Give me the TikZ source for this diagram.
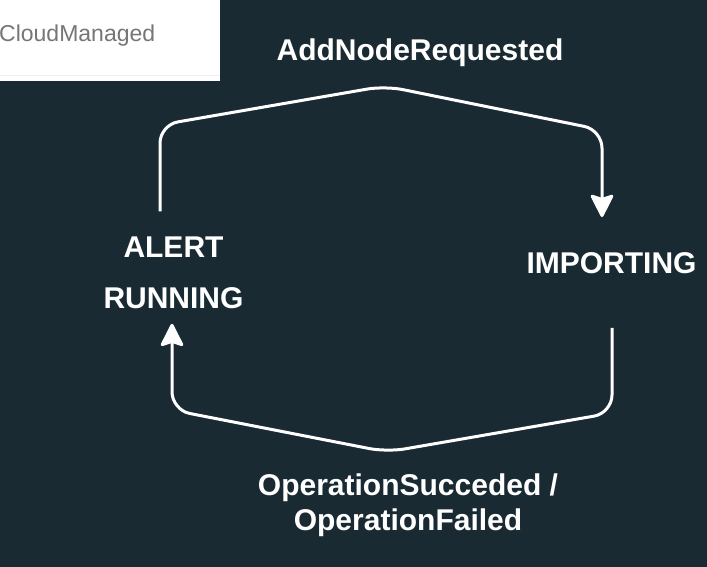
\documentclass[tikz,border=0pt]{standalone}
\usepackage{fontspec}
\setmainfont{Liberation Sans}
\usetikzlibrary{arrows.meta}
\definecolor{boardbg}{HTML}{1A2A32}
\definecolor{tabtext}{HTML}{767676}
\begin{document}
\begin{tikzpicture}[x=1pt,y=-1pt,
  statelabel/.style={text=white,font=\bfseries\fontsize{30}{51}\selectfont,inner sep=0pt,outer sep=0pt,align=center},
  eventlabel/.style={text=white,font=\bfseries\fontsize{30}{35}\selectfont,inner sep=0pt,align=center},
  flow/.style={draw=white,line width=3pt,rounded corners=18pt,
    -{Stealth[length=25pt,width=25pt,inset=4pt,round]}}]
  % canvas
  \useasboundingbox (0,0) rectangle (707,567);
  \fill[boardbg] (0,0) rectangle (707,567);
  % tab header in the corner
  \fill[white] (0,0) rectangle (220,81);
  \draw[black!6,line width=1pt] (0,76) -- (220,76);
  \node[anchor=base west,inner sep=0pt,text=tabtext,font=\fontsize{23}{27}\selectfont] (tab) at (-1,42) {CloudManaged};
  % states (base anchor sits on the last line)
  \node[statelabel,anchor=base] (alert) at (173.5,308) {ALERT\\RUNNING};
  \node[statelabel,anchor=base] (importing) at (611.5,273) {IMPORTING};
  % events
  \node[eventlabel,anchor=base] (addnode) at (420,61) {AddNodeRequested};
  \node[eventlabel,anchor=base] (opdone) at (408,530) {OperationSucceded /\\OperationFailed};
  % transitions
  \draw[flow] ([xshift=-13.5pt,yshift=25pt]alert.north) -- (160,125) -- (385,86)
     -- (602,130) -- ([xshift=-9.5pt,yshift=35pt]importing.north);
  \draw[flow] ([xshift=0.5pt,yshift=-54.5pt]importing.south) -- (612,413) -- (387,452)
     -- (172,410) -- ([xshift=-1.5pt,yshift=-15.5pt]alert.south);
\end{tikzpicture}
\end{document}
